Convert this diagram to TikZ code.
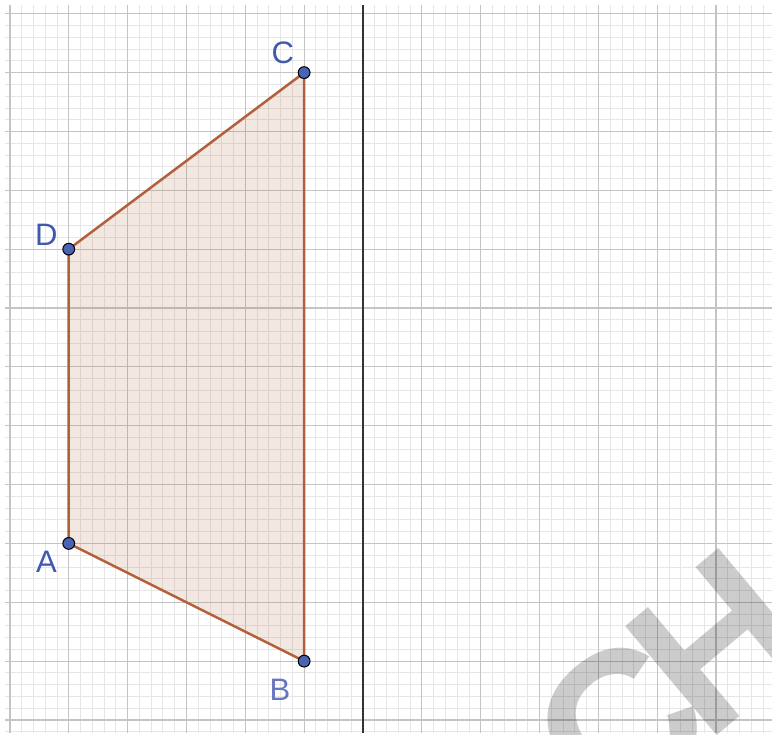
\documentclass[tikz,border=0pt]{standalone}
\usepackage{fontspec}
\setmainfont{Liberation Sans}
\usepackage{tikz}
\usetikzlibrary{positioning,calc}
\definecolor{Edge}{HTML}{B0603A}
\definecolor{PtBlue}{HTML}{4A63B5}
\definecolor{LblBlue}{HTML}{4058AE}
\definecolor{LblLight}{HTML}{6676C0}
\definecolor{MinorGrid}{HTML}{E6E6E6}
\definecolor{MajorGrid}{HTML}{C4C4C4}
\definecolor{Axis}{HTML}{333333}

\begin{document}
\begin{tikzpicture}[
  pt/.style={circle,draw=black,line width=0.5pt,fill=PtBlue,inner sep=0pt,minimum size=0.2cm},
  lbl/.style={text=LblBlue,font=\fontsize{15pt}{15pt}\selectfont,inner sep=0pt},
  wmark/.style={text=black,text opacity=0.2,rotate=40,inner sep=0pt,
    font=\fontsize{100pt}{100pt}\selectfont\bfseries},
  minor/.style={MinorGrid,line width=0.4pt},
  major/.style={MajorGrid,line width=0.6pt}
]
\useasboundingbox (-6.168,-0.255) rectangle (6.950,12.234);
% grid, minor lines every 1/5
\foreach \i in {-30,...,34} {
  \pgfmathtruncatemacro{\r}{mod(abs(\i),5)}
  \ifnum\r>0 \draw[minor] (\i/5,-0.22) -- (\i/5,12.15); \fi
}
\foreach \j in {-1,...,60} {
  \pgfmathtruncatemacro{\r}{mod(abs(\j),5)}
  \ifnum\r>0 \draw[minor] (-6.083,\j/5) -- (6.95,\j/5); \fi
}
\foreach \i in {-6,...,6} \draw[major] (\i,-0.22) -- (\i,12.15);
\foreach \j in {0,...,12} \draw[major] (-6.083,\j) -- (6.95,\j);
\draw[Axis,line width=1.4pt] (0,-0.22) -- (0,12.15);
% watermark
\node[wmark] (markC) at (4.37,-0.1) {C};
\node[wmark] (markH) at (6.03,1.32) {H};
% trapezoid
\coordinate (A) at (-5,3);
\coordinate (B) at (-1,1);
\coordinate (C) at (-1,11);
\coordinate (D) at (-5,8);
\filldraw[draw=Edge,line width=1.2pt,fill=Edge,fill opacity=0.15,line join=round]
  (A) -- (B) -- (C) -- (D) -- cycle;
\node[pt] (pA) at (A) {};
\node[pt] (pB) at (B) {};
\node[pt] (pC) at (C) {};
\node[pt] (pD) at (D) {};
\node[lbl] (lA) at ($(A)+(-0.38,-0.32)$) {A};
\node[lbl,text=LblLight] (lB) at ($(B)+(-0.41,-0.48)$) {B};
\node[lbl] (lC) at ($(C)+(-0.36,0.34)$) {C};
\node[lbl] (lD) at ($(D)+(-0.38,0.24)$) {D};
\end{tikzpicture}
\end{document}
